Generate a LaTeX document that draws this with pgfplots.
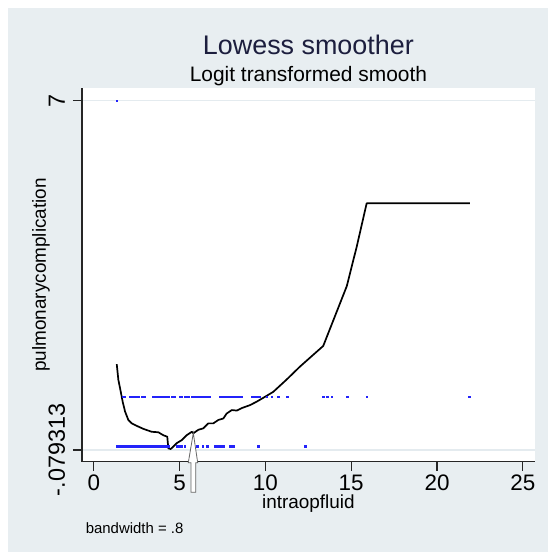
\documentclass[border=0pt]{standalone}
\usepackage{fontspec}
\setmainfont{Liberation Sans}
\usepackage{pgfplots}
\pgfplotsset{compat=1.18}
\definecolor{bgc}{RGB}{232,238,241}
\definecolor{gridc}{RGB}{228,235,239}
\definecolor{titlec}{RGB}{28,30,62}
\definecolor{dotc}{RGB}{35,35,250}
\begin{document}
\begin{tikzpicture}[x=1bp,y=1bp]
\useasboundingbox (-82,-90.3) rectangle (466,461.7);
\fill[white] (-82,-90.3) rectangle (466,461.7);
\fill[bgc] (-74.3,-90.3) rectangle (466,453.4);
\begin{axis}[
  at={(0,0)}, anchor=south west, scale only axis,
  width=452.8bp, height=373.4bp,
  xmin=-0.69, xmax=25.70, ymin=-0.3164, ymax=7.2513,
  axis background/.style={fill=white},
  axis x line*=bottom, axis y line*=left,
  axis line style={line width=1.2bp, black!85, -},
  xtick={0,5,10,15,20,25},
  ytick={-0.079313,7}, yticklabels={-.079313,7},
  tick align=outside, major tick length=9bp,
  tick style={line width=1.1bp, black!85},
  ymajorgrids, grid style={gridc, line width=1.6bp},
  /pgf/number format/assume math mode=true,
  xticklabel style={font=\fontsize{22.5}{24}\selectfont, anchor=north, inner sep=0pt, yshift=-4bp},
  yticklabel style={font=\fontsize{23.5}{25}\selectfont, rotate=90, anchor=base, inner sep=0pt, yshift=8bp},
  xlabel={intraopfluid},
  ylabel={pulmonarycomplication},
  label style={font=\fontsize{19}{22}\selectfont, inner sep=0pt},
  xlabel style={at={(axis description cs:0.5,0)}, anchor=base, yshift=-46.3bp},
  ylabel style={at={(axis description cs:0,0.5)}, anchor=base, yshift=36bp},
  clip=false,
]
% observations at 0
\addplot[only marks, mark=square*, mark size=0.7bp, color=dotc] coordinates {
(1.37,0)(1.44,0)(1.53,0)(1.61,0)(1.70,0)(1.79,0)(1.88,0)(1.96,0)(2.05,0)(2.14,0)
(2.23,0)(2.31,0)(2.40,0)(2.49,0)(2.58,0)(2.66,0)(2.75,0)(2.84,0)(2.93,0)(3.01,0)
(3.10,0)(3.19,0)(3.28,0)(3.36,0)(3.45,0)(3.54,0)(3.62,0)(3.71,0)(3.80,0)(3.89,0)
(3.97,0)(4.06,0)(4.15,0)(4.24,0)(4.34,0)(4.83,0)(4.91,0)(5.02,0)(5.12,0)(5.31,0)
(6.03,0)(6.35,0)(6.61,0)(7.06,0)(7.18,0)(7.30,0)(7.41,0)(7.55,0)(7.94,0)(8.13,0)
(9.57,0)(12.31,0)
};
% observations at 1
\addplot[only marks, mark=square*, mark size=0.7bp, color=dotc] coordinates {
(1.68,1)(1.76,1)(2.11,1)(2.20,1)(2.28,1)(2.37,1)(2.46,1)(2.58,1)(2.79,1)(2.87,1)
(2.98,1)(3.47,1)(3.55,1)(3.62,1)(3.70,1)(3.80,1)(3.92,1)(4.03,1)(4.15,1)(4.27,1)
(4.38,1)(4.54,1)(4.64,1)(4.73,1)(5.02,1)(5.11,1)(5.31,1)(5.40,1)(5.49,1)(5.71,1)
(5.80,1)(5.90,1)(6.01,1)(6.13,1)(6.23,1)(6.31,1)(6.39,1)(6.48,1)(6.58,1)(6.66,1)
(6.75,1)(7.35,1)(7.47,1)(7.59,1)(7.74,1)(7.85,1)(7.94,1)(8.02,1)(8.11,1)(8.23,1)
(8.35,1)(8.46,1)(8.62,1)(9.20,1)(9.28,1)(9.37,1)(9.45,1)(9.57,1)(9.66,1)(10.08,1)
(10.37,1)(10.75,1)(11.28,1)(13.37,1)(13.61,1)(13.86,1)(14.77,1)(15.90,1)(21.87,1)
};
% observation at 7
\addplot[only marks, mark=square*, mark size=0.7bp, color=dotc] coordinates {(1.335,7)};
% lowess smooth
\addplot[black, line width=1.7bp, sharp plot, line join=round] coordinates {
(1.335,1.66)(1.43,1.34)(1.53,1.17)(1.68,0.90)(1.82,0.70)(2.01,0.53)(2.21,0.46)
(2.50,0.41)(2.88,0.35)(3.37,0.29)(3.76,0.28)(4.05,0.22)(4.28,0.19)(4.34,-0.045)
(4.48,-0.06)(4.63,-0.01)(4.83,0.06)(5.12,0.12)(5.41,0.22)(5.71,0.29)(5.80,0.26)
(6.09,0.33)(6.38,0.36)(6.67,0.46)(6.96,0.46)(7.26,0.53)(7.55,0.56)(7.74,0.66)
(8.04,0.73)(8.33,0.72)(8.62,0.77)(9.10,0.83)(9.49,0.90)(9.98,1.00)(10.46,1.10)
(11.24,1.35)(12.01,1.61)(13.37,2.03)(14.74,3.24)(15.32,4.04)(15.90,4.92)(21.92,4.92)
};
\end{axis}
\node[anchor=base, font=\fontsize{27}{30}\selectfont, text=titlec] at (226.4,407.4) {Lowess smoother};
\node[anchor=base, font=\fontsize{21}{24}\selectfont] at (226.4,380) {Logit transformed smooth};
\node[anchor=base west, inner sep=0pt, font=\fontsize{15}{18}\selectfont] at (3.6,-71.6) {bandwidth = .8};
\draw[fill=white, draw=black!60, line width=0.8bp, line join=miter]
  (111.3,28.7) -- (115.7,-1) -- (113.7,-1) -- (113.7,-30.6) -- (109,-30.6) -- (109,-1) -- (106.3,-1) -- cycle;
\end{tikzpicture}
\end{document}
